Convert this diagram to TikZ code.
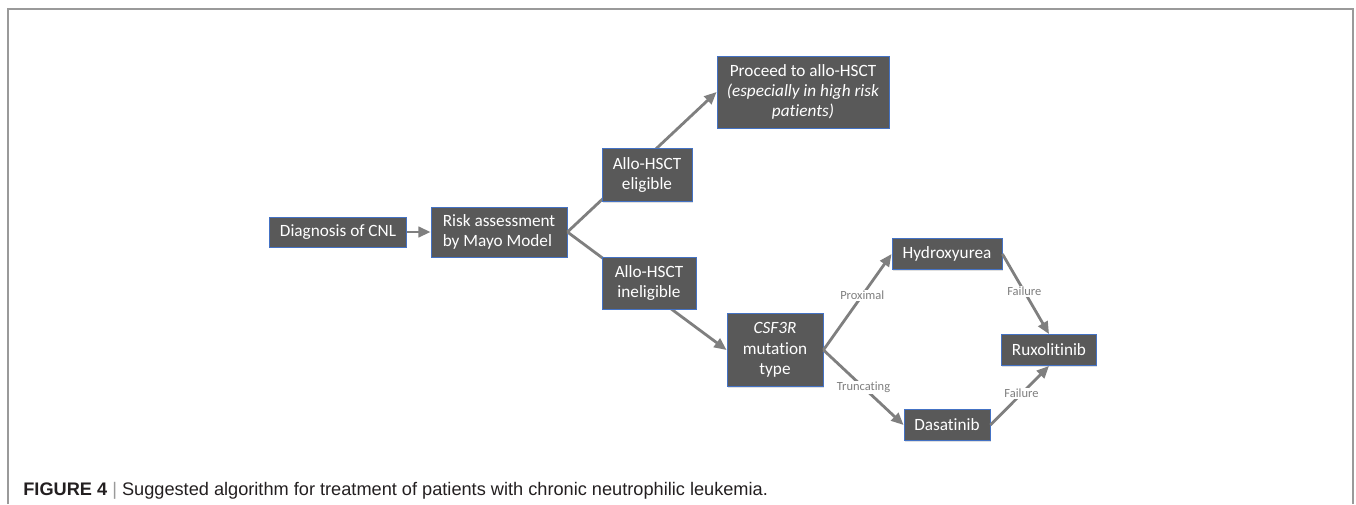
\documentclass[tikz,border=0pt]{standalone}
\usepackage{fontspec}
\setmainfont{Carlito}[Ligatures=NoCommon]
\newfontfamily\capfont{Liberation Sans}
\usetikzlibrary{arrows.meta,shadows}
\definecolor{boxgray}{HTML}{595959}
\definecolor{boxblue}{HTML}{4472C4}
\definecolor{arrgray}{HTML}{7F7F7F}
\definecolor{framegray}{HTML}{9A9A9A}
\definecolor{captext}{HTML}{231F20}
\begin{document}
\begin{tikzpicture}[x=0.02cm,y=-0.02cm]
	\tikzstyle{Box} = [rectangle, draw=boxblue, line width=0.5pt, fill=boxgray, text=white, font=\fontsize{9.8}{11.6}\selectfont, inner sep=1pt, align=center, drop shadow={opacity=0.25, shadow xshift=0.5pt, shadow yshift=-0.8pt}]
	\tikzstyle{Arrow} = [draw=arrgray, line width=1.6pt, -{Triangle[length=7pt,width=6pt]}]
	\tikzstyle{Lbl} = [text=arrgray, font=\fontsize{7.1}{8}\selectfont, fill=white, inner sep=0.6pt]
	\useasboundingbox (0,0) rectangle (1356,504);
	% frame, open at the bottom
	\draw [framegray, line width=0.6pt] (8,504) -- (8,9) -- (1353,9) -- (1353,504);
	% boxes
	\node (diag) at (338,232) [Box, minimum width=2.74cm, minimum height=0.6cm] {Diagnosis of CNL};
	\node (risk) at (499,232) [Box, minimum width=2.72cm, minimum height=1.0cm, align=left] {Risk assessment\\by Mayo Model};
	\node (alloHSCT) at (803,92) [Box, minimum width=3.44cm, minimum height=1.44cm] {Proceed to allo-HSCT\\\textit{(especially in high risk}\\\textit{patients)}};
	\node (csf) at (775,350) [Box, minimum width=1.92cm, minimum height=1.46cm] {\textit{CSF3R}\\mutation\\type};
	\node (hydro) at (947,254) [Box, minimum width=2.2cm, minimum height=0.62cm] {Hydroxyurea};
	\node (ruxo) at (1049,350) [Box, minimum width=1.9cm, minimum height=0.62cm] {Ruxolitinib};
	\node (dasa) at (947,425) [Box, minimum width=1.72cm, minimum height=0.62cm] {Dasatinib};
	% arrows
	\draw [Arrow] (diag) to (risk);
	\draw [Arrow] (risk.east) to (alloHSCT.west);
	\draw [Arrow] (risk.east) to (csf.west);
	\draw [Arrow] (csf.east) to node[pos=0.57, Lbl] {Proximal} (hydro.west);
	\draw [Arrow] (csf.east) to node[pos=0.5, Lbl] {Truncating} (dasa.west);
	\draw [Arrow] (hydro.east) to node[pos=0.47, Lbl] {Failure} (ruxo.north);
	\draw [Arrow] (dasa.east) to node[pos=0.53, Lbl] {Failure} (ruxo.south);
	% eligibility boxes sit on the lines
	\node (elig) at (647,175) [Box, minimum width=1.8cm, minimum height=1.06cm] {Allo-HSCT\\eligible};
	\node (inelig) at (649,283) [Box, minimum width=1.88cm, minimum height=1.04cm] {Allo-HSCT\\ineligible};
	% caption
	\node (cap) at (23,495) [anchor=base west, inner sep=0pt, text=captext, font=\capfont\fontsize{10.35}{12}\selectfont] {\textbf{FIGURE 4} {\color{framegray}|} Suggested algorithm for treatment of patients with chronic neutrophilic leukemia.};
\end{tikzpicture}
\end{document}
